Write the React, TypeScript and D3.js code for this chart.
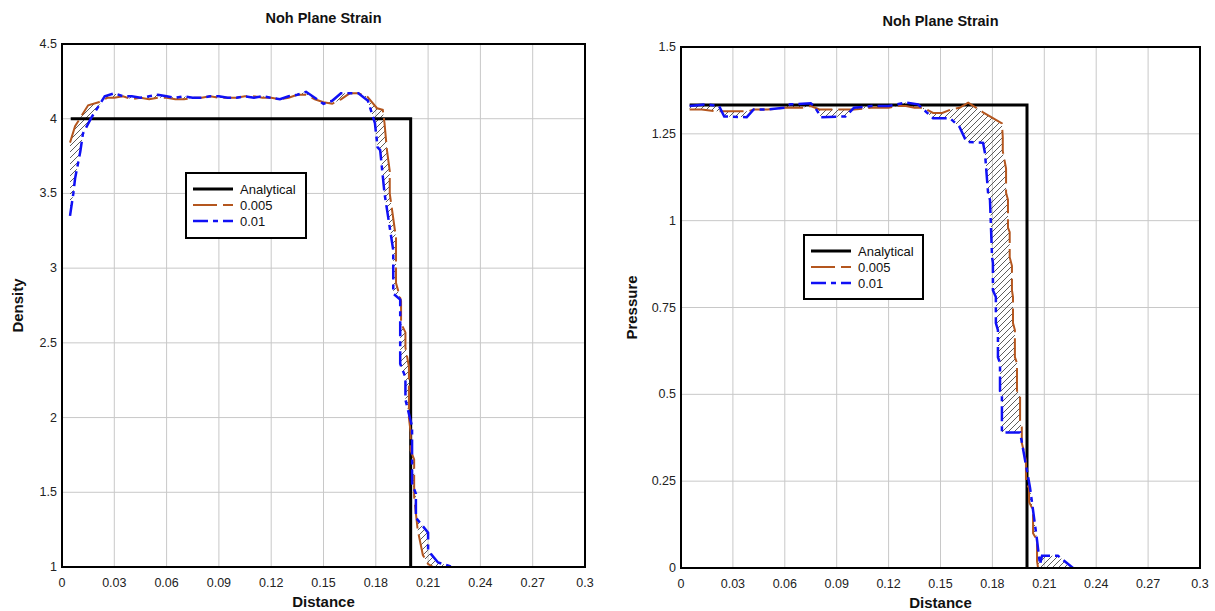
import React from "react";
import * as d3 from "d3";

type Pt = [number, number];

const xTicks = [0, 0.03, 0.06, 0.09, 0.12, 0.15, 0.18, 0.21, 0.24, 0.27, 0.3];
const densityTicks = [1, 1.5, 2, 2.5, 3, 3.5, 4, 4.5];
const pressureTicks = [0, 0.25, 0.5, 0.75, 1, 1.25, 1.5];
const legendLabels = ["Analytical", "0.005", "0.01"];

const densityAnalytical: Pt[] = [[0.005, 4], [0.2, 4], [0.2, 1]];
const pressureAnalytical: Pt[] = [[0.005, 1.3333], [0.2, 1.3333], [0.2, 0]];

const density005: Pt[] = [
  [0.0046, 3.84], [0.0075, 3.95], [0.015, 4.09], [0.021, 4.11], [0.026, 4.14], [0.03, 4.14],
  [0.035, 4.15], [0.04, 4.13], [0.045, 4.14], [0.05, 4.13], [0.055, 4.14], [0.06, 4.14],
  [0.065, 4.13], [0.07, 4.13], [0.075, 4.14], [0.08, 4.14], [0.085, 4.15], [0.09, 4.14],
  [0.095, 4.14], [0.1, 4.14], [0.105, 4.15], [0.11, 4.15], [0.115, 4.14], [0.12, 4.14],
  [0.125, 4.13], [0.13, 4.14], [0.135, 4.16], [0.14, 4.16], [0.145, 4.13], [0.15, 4.11],
  [0.155, 4.1], [0.16, 4.13], [0.165, 4.17], [0.17, 4.17], [0.175, 4.15], [0.1807, 4.07],
  [0.184, 4.06], [0.185, 3.97], [0.1864, 3.79], [0.188, 3.65], [0.188, 3.5], [0.1916, 3.2],
  [0.1916, 2.9], [0.1945, 2.78], [0.1945, 2.63], [0.197, 2.57], [0.197, 2.47], [0.199, 2.34],
  [0.199, 2.0], [0.2, 1.9], [0.2, 1.78], [0.202, 1.72], [0.202, 1.47], [0.204, 1.25],
  [0.207, 1.08], [0.21, 1.02], [0.213, 1.0], [0.22, 1.0],
];

const density01: Pt[] = [
  [0.0046, 3.35], [0.0065, 3.5], [0.0075, 3.6], [0.0105, 3.78], [0.012, 3.9], [0.017, 4.01],
  [0.0245, 4.15], [0.03, 4.17], [0.035, 4.15], [0.04, 4.15], [0.045, 4.14], [0.05, 4.15],
  [0.055, 4.16], [0.06, 4.15], [0.065, 4.14], [0.07, 4.15], [0.075, 4.14], [0.08, 4.14],
  [0.085, 4.15], [0.09, 4.15], [0.095, 4.14], [0.1, 4.14], [0.105, 4.15], [0.11, 4.14],
  [0.115, 4.15], [0.12, 4.14], [0.125, 4.13], [0.13, 4.15], [0.135, 4.16], [0.14, 4.18],
  [0.145, 4.14], [0.15, 4.1], [0.155, 4.12], [0.16, 4.17], [0.165, 4.17], [0.17, 4.17],
  [0.1755, 4.12], [0.1795, 3.97], [0.181, 3.81], [0.1825, 3.79], [0.185, 3.5], [0.19, 3.12],
  [0.19, 2.83], [0.194, 2.79], [0.194, 2.36], [0.197, 2.27], [0.197, 2.12], [0.2008, 1.94],
  [0.2008, 1.56], [0.203, 1.49], [0.203, 1.33], [0.21, 1.23], [0.21, 1.11], [0.2157, 1.03],
  [0.224, 1.0],
];

const pressure005: Pt[] = [
  [0.005, 1.32], [0.012, 1.32], [0.02, 1.315], [0.03, 1.315], [0.039, 1.315], [0.042, 1.32],
  [0.05, 1.32], [0.06, 1.325], [0.07, 1.325], [0.075, 1.33], [0.08, 1.32], [0.09, 1.32],
  [0.1, 1.32], [0.11, 1.325], [0.12, 1.325], [0.125, 1.33], [0.13, 1.33], [0.135, 1.325],
  [0.14, 1.325], [0.1457, 1.31], [0.151, 1.31], [0.156, 1.32], [0.161, 1.325], [0.166, 1.34],
  [0.1746, 1.312], [0.1855, 1.28], [0.186, 1.24], [0.186, 1.2], [0.1879, 1.15], [0.1879, 1.08],
  [0.189, 1.06], [0.189, 0.98], [0.19, 0.967], [0.19, 0.895], [0.1913, 0.87], [0.1913, 0.8],
  [0.1919, 0.78], [0.1919, 0.705], [0.193, 0.685], [0.193, 0.607], [0.1942, 0.59], [0.1942, 0.51],
  [0.196, 0.5], [0.196, 0.42], [0.197, 0.405], [0.197, 0.36], [0.1994, 0.31], [0.1994, 0.245],
  [0.2012, 0.23], [0.2012, 0.19], [0.2035, 0.167], [0.2035, 0.1], [0.2058, 0.08], [0.2058, 0.02],
  [0.2064, 0.0], [0.23, 0.0],
];

const pressure01: Pt[] = [
  [0.005, 1.33], [0.015, 1.335], [0.022, 1.33], [0.025, 1.3], [0.038, 1.298], [0.042, 1.32],
  [0.05, 1.32], [0.06, 1.325], [0.063, 1.335], [0.075, 1.338], [0.077, 1.33], [0.081, 1.298],
  [0.095, 1.3], [0.1, 1.325], [0.11, 1.33], [0.12, 1.33], [0.13, 1.34], [0.137, 1.335],
  [0.1457, 1.295], [0.1555, 1.295], [0.161, 1.27], [0.165, 1.227], [0.1746, 1.224], [0.1757, 1.195],
  [0.1775, 1.08], [0.1786, 1.06], [0.1798, 0.895], [0.1803, 0.878], [0.1803, 0.8], [0.182, 0.78],
  [0.182, 0.705], [0.1832, 0.685], [0.1832, 0.607], [0.1844, 0.59], [0.1844, 0.51], [0.1855, 0.5],
  [0.1855, 0.39], [0.1919, 0.39], [0.196, 0.39], [0.2017, 0.233], [0.2058, 0.08], [0.2075, 0.01],
  [0.2087, 0.035], [0.2179, 0.035], [0.2266, 0.0],
];

const BROWN = "#B4561E";
const BLUE = "#1010F5";
const FONT = "'Liberation Sans', Arial, sans-serif";

interface ChartProps {
  id: string;
  left: number;
  top: number;
  width: number;
  height: number;
  yDomain: [number, number];
  yTicks: number[];
  yLabel: string;
  yLabelOffset: number;
  analytical: Pt[];
  s1: Pt[];
  s2: Pt[];
  legend: { x: number; y: number; w: number; h: number };
}

function fmt(v: number) {
  return String(+v.toFixed(3));
}

function Chart(p: ChartProps) {
  const x = d3.scaleLinear().domain([0, 0.3]).range([p.left, p.left + p.width]);
  const y = d3.scaleLinear().domain(p.yDomain).range([p.top + p.height, p.top]);
  const line = d3.line<Pt>().x((d) => x(d[0])).y((d) => y(d[1]));
  const hatchPath = line(p.s1.concat(p.s2.slice().reverse())) + "Z";
  const clipId = `clip-${p.id}`;
  const cx = p.left + p.width / 2;
  const lg = p.legend;
  const rowY = (i: number) => lg.y + 16 + i * 16;
  const legendStyles = [
    { stroke: "#000", w: 3, dash: undefined as string | undefined },
    { stroke: BROWN, w: 2, dash: "24,6" },
    { stroke: BLUE, w: 2.5, dash: "15,5,5,5" },
  ];
  return (
    <g>
      <defs>
        <clipPath id={clipId}>
          <rect x={p.left} y={p.top} width={p.width} height={p.height} />
        </clipPath>
      </defs>
      <text x={cx} y={p.top - 21} textAnchor="middle" fontFamily={FONT} fontWeight="bold" fontSize={14.5} fill="#111">
        Noh Plane Strain
      </text>
      {xTicks.map((t) => (
        <line key={"gx" + t} x1={x(t)} x2={x(t)} y1={p.top} y2={p.top + p.height} stroke="#c8c8c8" strokeWidth={1} />
      ))}
      {p.yTicks.map((t) => (
        <line key={"gy" + t} x1={p.left} x2={p.left + p.width} y1={y(t)} y2={y(t)} stroke="#c8c8c8" strokeWidth={1} />
      ))}
      <g clipPath={`url(#${clipId})`}>
        <path d={hatchPath} fill="url(#hatch)" stroke="none" />
        <path d={line(p.analytical) || ""} fill="none" stroke="#000" strokeWidth={3} />
        <path d={line(p.s1) || ""} fill="none" stroke={BROWN} strokeWidth={2} strokeDasharray="24,6" />
        <path d={line(p.s2) || ""} fill="none" stroke={BLUE} strokeWidth={2.5} strokeDasharray="15,5,5,5" />
      </g>
      <rect x={p.left} y={p.top} width={p.width} height={p.height} fill="none" stroke="#000" strokeWidth={2} />
      {xTicks.map((t) => (
        <text key={"tx" + t} x={x(t)} y={p.top + p.height + 20} textAnchor="middle" fontFamily={FONT} fontSize={12.5} fill="#222">
          {fmt(t)}
        </text>
      ))}
      {p.yTicks.map((t) => (
        <text key={"ty" + t} x={p.left - 5} y={y(t) + 4} textAnchor="end" fontFamily={FONT} fontSize={12.5} fill="#222">
          {fmt(t)}
        </text>
      ))}
      <text x={cx} y={p.top + p.height + 40} textAnchor="middle" fontFamily={FONT} fontWeight="bold" fontSize={15} fill="#111">
        Distance
      </text>
      <text
        transform={`translate(${p.left - p.yLabelOffset},${p.top + p.height / 2}) rotate(-90)`}
        textAnchor="middle"
        fontFamily={FONT}
        fontWeight="bold"
        fontSize={15}
        fill="#111"
      >
        {p.yLabel}
      </text>
      <rect x={lg.x} y={lg.y} width={lg.w} height={lg.h} fill="#fff" stroke="#000" strokeWidth={2} />
      {legendLabels.map((lab, i) => (
        <g key={lab}>
          <line
            x1={lg.x + 7}
            x2={lg.x + 47}
            y1={rowY(i)}
            y2={rowY(i)}
            stroke={legendStyles[i].stroke}
            strokeWidth={legendStyles[i].w}
            strokeDasharray={legendStyles[i].dash}
          />
          <text x={lg.x + 54} y={rowY(i) + 4.5} fontFamily={FONT} fontSize={13} fill="#111">
            {lab}
          </text>
        </g>
      ))}
    </g>
  );
}

export default function App() {
  return (
    <svg width={1215} height={611} style={{ position: "absolute", left: 0, top: 0, background: "#fff" }}>
      <defs>
        <pattern id="hatch" patternUnits="userSpaceOnUse" width={6} height={6}>
          <path d="M-1,1 L1,-1 M0,6 L6,0 M5,7 L7,5" stroke="#333" strokeWidth={0.8} />
        </pattern>
      </defs>
      <rect x={0} y={0} width={1215} height={611} fill="#fff" />
      <Chart
        id="density"
        left={62}
        top={44}
        width={523}
        height={523}
        yDomain={[1, 4.5]}
        yTicks={densityTicks}
        yLabel="Density"
        yLabelOffset={39}
        analytical={densityAnalytical}
        s1={density005}
        s2={density01}
        legend={{ x: 186, y: 173, w: 120, h: 65 }}
      />
      <Chart
        id="pressure"
        left={681}
        top={47}
        width={519}
        height={521}
        yDomain={[0, 1.5]}
        yTicks={pressureTicks}
        yLabel="Pressure"
        yLabelOffset={44}
        analytical={pressureAnalytical}
        s1={pressure005}
        s2={pressure01}
        legend={{ x: 804, y: 235, w: 119, h: 64 }}
      />
    </svg>
  );
}
